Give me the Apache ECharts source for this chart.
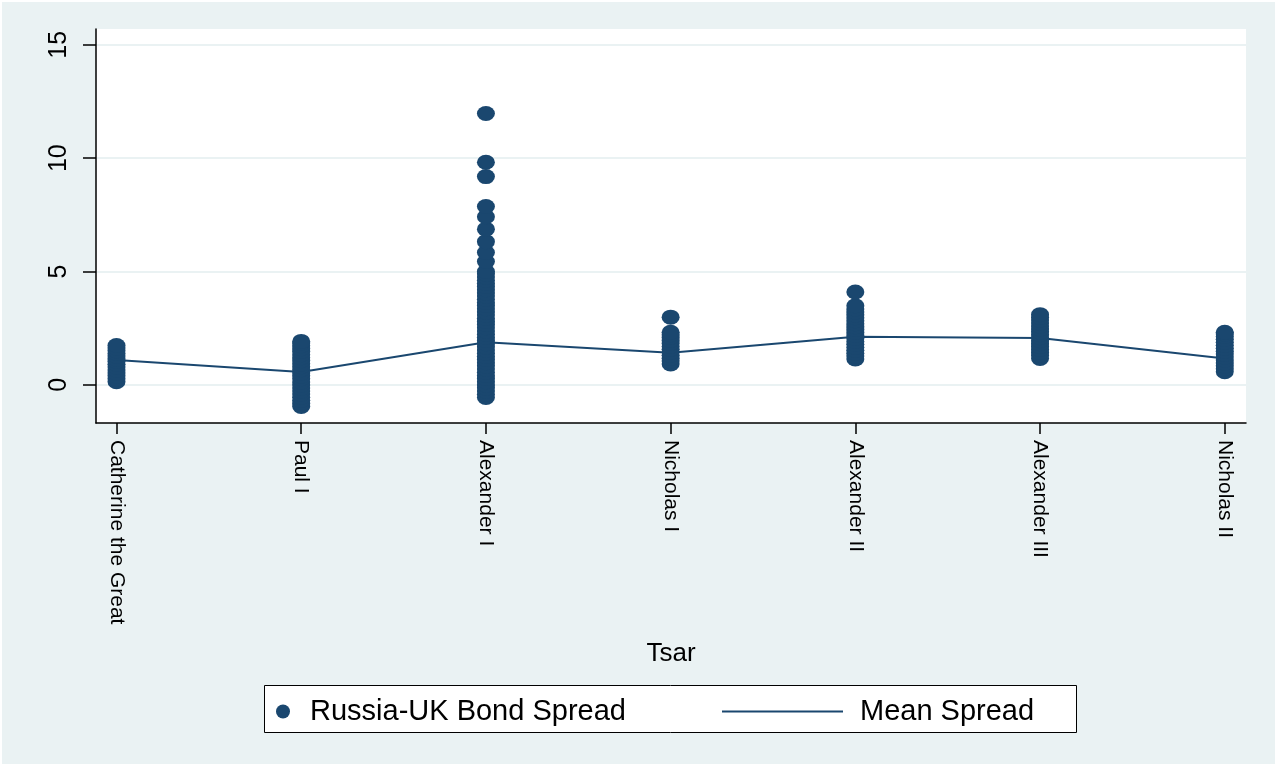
<!DOCTYPE html>
<html>
<head>
<meta charset="utf-8">
<script src="https://cdn.jsdelivr.net/npm/echarts@6/dist/echarts.min.js"></script>
<style>
  html, body { margin: 0; padding: 0; background: #fff; }
  #chart { width: 1277px; height: 766px; }
</style>
</head>
<body>
<div id="chart"></div>
<script>
// tsars on the x axis, in reign order
const tsars = ['Catherine the Great', 'Paul I', 'Alexander I', 'Nicholas I', 'Alexander II', 'Alexander III', 'Nicholas II'];

const catherineSpread = [0.14, 0.27, 0.4, 0.53, 0.66, 0.79, 0.91, 1.03, 1.15, 1.27, 1.39, 1.51, 1.63, 1.74];
const paulSpread = [-0.95, -0.82, -0.68, -0.54, -0.4, -0.27, -0.14, 0.0, 0.13, 0.27, 0.4, 0.53, 0.67, 0.8, 0.93, 1.07, 1.2, 1.33, 1.47, 1.6, 1.73, 1.85, 1.92];
const alexander1Spread = [-0.55, -0.41, -0.27, -0.13, 0.0, 0.14, 0.28, 0.42, 0.56, 0.7, 0.84, 0.98, 1.12, 1.26, 1.4, 1.54, 1.68, 1.82, 1.96, 2.1, 2.24, 2.38, 2.52, 2.66, 2.8, 2.94, 3.08, 3.22, 3.36, 3.5, 3.64, 3.78, 3.92, 4.06, 4.2, 4.34, 4.48, 4.62, 4.76, 4.9, 5.0, 5.44, 5.84, 6.32, 6.87, 7.42, 7.87, 9.19, 9.82, 11.97];
const nicholas1Spread = [0.92, 1.05, 1.18, 1.31, 1.44, 1.57, 1.7, 1.83, 1.96, 2.09, 2.21, 2.32, 2.99];
const alexander2Spread = [1.14, 1.27, 1.4, 1.53, 1.66, 1.79, 1.92, 2.05, 2.18, 2.31, 2.44, 2.57, 2.7, 2.83, 2.96, 3.09, 3.22, 3.35, 3.49, 4.1];
const alexander3Spread = [1.17, 1.3, 1.43, 1.56, 1.69, 1.82, 1.95, 2.08, 2.21, 2.34, 2.47, 2.6, 2.73, 2.86, 2.98, 3.1];
const nicholas2Spread = [0.58, 0.71, 0.84, 0.97, 1.1, 1.23, 1.36, 1.49, 1.62, 1.75, 1.88, 2.01, 2.14, 2.25, 2.32];

// mean spread per tsar
const meanSpread = [1.10, 0.57, 1.88, 1.42, 2.12, 2.07, 1.16];

const yTicks = [0, 5, 10, 15];

const navy = '#1a476f';
const stataBg = '#eaf2f3';

const spreadsByTsar = [catherineSpread, paulSpread, alexander1Spread, nicholas1Spread, alexander2Spread, alexander3Spread, nicholas2Spread];
const scatterData = [];
spreadsByTsar.forEach((vals, i) => {
  vals.forEach(v => scatterData.push([i, v]));
});
const lineData = meanSpread.map((v, i) => [i, v]);

const chart = echarts.init(document.getElementById('chart'));

const option = {
  backgroundColor: stataBg,
  animation: false,
  textStyle: { fontFamily: 'Liberation Sans, Arial, sans-serif', color: '#000' },
  grid: {
    left: 96, right: 31, top: 29, bottom: 343,
    show: true, backgroundColor: '#fff', borderWidth: 0
  },
  graphic: [
    {
      type: 'rect', z: -1, silent: true,
      shape: { x: 1, y: 1, width: 1275, height: 764 },
      style: { fill: 'none', stroke: '#fff', lineWidth: 2 }
    },
    {
      type: 'rect', z: 0, silent: true,
      shape: { x: 264.5, y: 685.5, width: 812, height: 47 },
      style: { fill: '#fff', stroke: '#000', lineWidth: 1 }
    }
  ],
  legend: [
    {
      data: ['Russia-UK Bond Spread'],
      left: 276, top: 697, padding: 0,
      itemWidth: 28, itemHeight: 14, icon: 'circle',
      textStyle: { fontSize: 29, color: '#000', padding: [0, 0, 0, 8] },
      selectedMode: false, z: 5
    },
    {
      data: ['Mean Spread'],
      left: 722, top: 697, padding: 0,
      itemWidth: 121, itemHeight: 2, icon: 'rect',
      textStyle: { fontSize: 29, color: '#000', padding: [0, 0, 0, 12] },
      selectedMode: false, z: 5
    }
  ],
  xAxis: {
    type: 'value',
    min: -0.111, max: 6.115,
    name: 'Tsar',
    nameLocation: 'middle',
    nameGap: 218,
    nameTextStyle: { fontSize: 26, color: '#000' },
    axisLine: { show: true, onZero: false, lineStyle: { color: '#000', width: 1.5 } },
    axisTick: { show: true, length: 11, customValues: [0, 1, 2, 3, 4, 5, 6], lineStyle: { color: '#000', width: 1.5 } },
    axisLabel: {
      customValues: [0, 1, 2, 3, 4, 5, 6],
      formatter: v => tsars[Math.round(v)],
      rotate: -90,
      margin: 17,
      fontSize: 21,
      color: '#000'
    },
    splitLine: { show: false }
  },
  yAxis: {
    type: 'value',
    min: -1.68, max: 15.7,
    splitNumber: 3,
    minInterval: 5,
    maxInterval: 5,
    axisLine: { show: true, onZero: false, lineStyle: { color: '#000', width: 1.5 } },
    axisTick: { show: true, length: 13, customValues: yTicks, lineStyle: { color: '#000', width: 1.5 } },
    axisLabel: {
      customValues: yTicks,
      rotate: 90,
      margin: 24,
      fontSize: 25,
      color: '#000'
    },
    splitLine: { show: true, lineStyle: { color: stataBg, width: 2 } }
  },
  series: [
    {
      name: 'Russia-UK Bond Spread',
      type: 'scatter',
      data: scatterData,
      symbol: 'circle',
      symbolSize: [18, 15],
      itemStyle: { color: navy, opacity: 1 },
      z: 3
    },
    {
      name: 'Mean Spread',
      type: 'line',
      data: lineData,
      symbol: 'none',
      lineStyle: { color: navy, width: 2 },
      itemStyle: { color: navy },
      z: 2
    }
  ]
};

chart.setOption(option);
</script>
</body>
</html>
